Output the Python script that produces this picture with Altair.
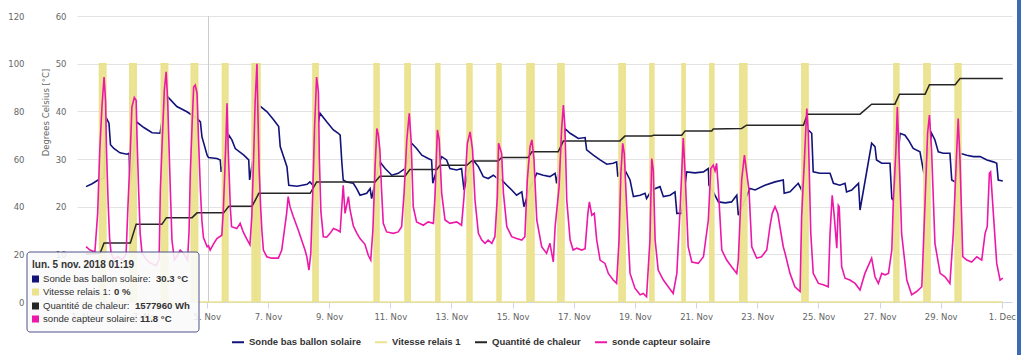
import altair as alt
import pandas as pd

BASE = pd.Timestamp("2018-11-01 00:00:00")

series_names = ["Sonde bas ballon solaire", "Vitesse relais 1", "Quantité de chaleur", "sonde capteur solaire"]
series_colors = ["#12137a", "#ebe28e", "#262626", "#ec18a8"]

# (days since 1 Nov 2018 00:00, °C)
ballon = [(0.05,24.2),(0.25,24.8),(0.47,25.7),(0.64,26.0),(0.70,38.8),(0.80,37.5),(0.85,33.0),(0.96,32.2),
 (1.16,31.3),(1.39,31.0),(1.46,31.2),(1.49,24.5),(1.59,30.0),(1.70,37.8),(1.94,36.6),(2.21,35.5),(2.47,35.4),
 (2.67,43.4),(2.80,42.5),(3.02,41.0),(3.35,39.9),(3.68,38.5),(3.79,37.8),(3.84,34.7),(4.01,30.8),(4.055,30.3),
 (4.33,30.1),(4.44,29.8),(4.47,27.3),(4.59,30.0),(4.72,35.0),(4.82,34.0),(4.93,32.2),(5.21,30.8),(5.37,29.8),
 (5.40,25.6),(5.51,30.0),(5.70,41.3),(5.97,39.9),(6.19,38.2),(6.35,36.8),(6.40,32.6),(6.62,28.4),(6.68,24.5),
 (6.95,24.3),(7.28,24.7),(7.37,25.2),(7.47,24.5),(7.57,35.0),(7.70,39.6),(7.92,37.8),(8.14,36.1),(8.30,35.4),
 (8.36,35.0),(8.41,29.8),(8.46,25.6),(8.57,25.2),(8.79,24.9),(8.90,23.8),(9.01,22.4),(9.23,22.8),(9.34,23.8),
 (9.39,21.7),(9.50,25.0),(9.66,29.4),(9.83,28.0),(10.05,26.6),(10.26,27.0),(10.48,28.0),(10.58,30.0),(10.70,33.3),
 (10.86,32.2),(11.03,30.8),(11.24,30.1),(11.35,29.8),(11.39,24.9),(11.53,28.0),(11.68,30.5),(11.84,29.8),
 (11.95,28.0),(12.17,27.7),(12.33,28.0),(12.41,23.5),(12.54,27.0),(12.71,29.8),(12.88,28.4),(13.04,26.3),
 (13.20,25.9),(13.37,26.6),(13.49,26.0),(13.64,25.6),(13.81,24.5),(13.97,23.5),(14.13,22.4),(14.30,23.1),
 (14.37,20.0),(14.57,24.0),(14.79,27.0),(15.00,26.6),(15.22,26.3),(15.39,27.0),(15.44,24.9),(15.55,30.0),
 (15.71,36.4),(15.88,35.4),(16.15,34.3),(16.37,34.5),(16.42,31.9),(16.64,30.8),(16.86,29.8),(17.08,28.9),
 (17.29,29.1),(17.40,29.4),(17.44,26.3),(17.54,28.0),(17.67,27.7),(17.84,25.6),(17.95,22.1),(18.17,22.4),
 (18.33,22.8),(18.38,21.7),(18.55,23.5),(18.82,24.2),(18.93,22.1),(19.15,22.4),(19.31,23.1),(19.37,18.6),
 (19.53,18.6),(19.69,27.3),(19.96,27.1),(20.24,27.3),(20.40,28.0),(20.42,24.5),(20.56,23.1),(20.73,21.0),
 (20.95,20.8),(21.16,21.0),(21.33,22.4),(21.38,18.2),(21.57,21.0),(21.76,23.8),(21.93,23.5),(22.25,24.5),
 (22.58,25.2),(22.85,25.6),(22.88,22.8),(23.07,23.1),(23.34,24.9),(23.45,23.5),(23.59,30.0),(23.67,36.1),
 (23.78,35.4),(23.83,27.3),(24.05,27.0),(24.38,27.0),(24.49,24.9),(24.70,24.5),(24.87,24.9),(24.92,23.1),
 (25.09,23.5),(25.31,24.9),(25.36,19.3),(25.74,33.3),(25.85,32.6),(25.90,29.8),(26.07,29.1),(26.34,29.1),
 (26.40,21.7),(26.45,21.4),(26.57,28.0),(26.67,35.4),(26.83,35.0),(26.94,34.0),(27.10,32.2),(27.32,31.5),
 (27.45,27.0),(27.58,31.0),(27.70,35.4),(27.81,34.0),(27.92,31.5),(28.08,31.2),(28.30,31.2),(28.36,25.6),
 (28.47,25.2),(28.63,31.2),(28.85,30.8),(29.07,30.5),(29.29,30.5),(29.51,29.8),(29.72,29.4),(29.83,29.1),
 (29.88,25.6),(30.03,25.4)]

capteur = [(0.05,11.6),(0.18,10.9),(0.34,10.5),(0.43,18.6),(0.50,31.9),(0.57,40.9),(0.64,47.2),(0.69,42.0),
 (0.72,31.9),(0.77,21.4),(0.82,13.5),(0.87,10.2),(0.96,9.0),(1.10,9.5),(1.23,8.8),(1.36,10.0),(1.42,20.0),
 (1.50,31.9),(1.55,40.9),(1.63,42.9),(1.69,42.3),(1.72,34.0),(1.77,23.5),(1.82,14.4),(1.88,10.3),(2.01,9.0),
 (2.14,8.2),(2.34,7.6),(2.44,9.0),(2.48,23.5),(2.53,31.9),(2.61,44.4),(2.67,48.3),(2.72,42.3),(2.79,27.0),
 (2.86,13.0),(2.94,8.8),(3.06,10.0),(3.13,10.9),(3.24,10.2),(3.37,8.8),(3.42,15.0),(3.46,27.0),(3.52,37.5),
 (3.57,45.1),(3.62,45.5),(3.68,43.8),(3.73,34.0),(3.79,23.5),(3.84,17.0),(3.89,13.5),(4.01,11.6),(4.055,11.8),
 (4.11,10.9),(4.22,12.2),(4.33,13.3),(4.49,14.0),(4.54,19.3),(4.59,27.7),(4.63,35.0),(4.66,41.7),(4.70,32.0),
 (4.74,25.0),(4.77,19.6),(4.81,15.8),(4.98,15.4),(5.09,16.5),(5.19,14.7),(5.30,13.3),(5.41,12.0),(5.47,17.9),
 (5.53,30.0),(5.58,42.0),(5.64,50.0),(5.67,40.0),(5.71,28.0),(5.76,20.0),(5.80,15.1),(5.85,10.9),(5.96,9.5),
 (6.12,9.2),(6.34,9.2),(6.45,10.9),(6.61,18.6),(6.66,22.1),(6.72,20.0),(6.83,17.9),(6.99,15.1),(7.10,13.0),
 (7.21,10.9),(7.27,9.5),(7.34,6.7),(7.40,10.2),(7.46,22.0),(7.52,36.0),(7.59,47.2),(7.65,44.0),(7.68,30.0),
 (7.73,19.0),(7.81,13.7),(7.92,13.6),(8.03,14.4),(8.14,15.4),(8.26,15.1),(8.36,14.7),(8.46,24.5),(8.52,18.6),
 (8.63,22.1),(8.68,19.5),(8.79,16.0),(8.90,14.5),(9.01,13.3),(9.17,12.1),(9.28,9.8),(9.36,8.8),(9.43,15.0),
 (9.50,28.0),(9.56,36.4),(9.61,35.0),(9.66,31.9),(9.71,24.0),(9.77,16.5),(9.88,14.7),(10.10,14.4),(10.26,14.7),
 (10.37,15.8),(10.45,22.8),(10.54,34.0),(10.62,39.6),(10.68,34.0),(10.75,20.0),(10.86,16.8),(11.08,16.1),
 (11.24,16.8),(11.41,16.5),(11.46,22.1),(11.54,36.1),(11.60,34.0),(11.68,22.8),(11.79,17.2),(11.95,16.5),
 (12.17,16.8),(12.33,16.1),(12.41,22.1),(12.52,33.3),(12.61,35.7),(12.69,31.9),(12.77,21.4),(12.88,14.4),
 (12.99,13.0),(13.10,12.3),(13.20,13.0),(13.32,12.3),(13.42,13.7),(13.50,22.1),(13.54,33.3),(13.64,31.2),
 (13.70,22.8),(13.81,15.8),(13.97,13.7),(14.13,13.3),(14.30,13.0),(14.40,13.7),(14.48,25.6),(14.57,32.6),
 (14.63,34.0),(14.70,29.8),(14.79,17.2),(14.95,11.6),(15.11,10.2),(15.22,12.3),(15.33,8.4),(15.39,15.8),
 (15.52,24.2),(15.60,36.1),(15.66,41.3),(15.71,36.8),(15.77,21.4),(15.88,13.0),(15.98,10.9),(16.10,11.3),
 (16.26,10.9),(16.37,11.2),(16.46,18.6),(16.51,21.0),(16.59,18.2),(16.67,18.6),(16.75,13.0),(16.86,8.8),
 (17.02,8.1),(17.13,6.0),(17.29,4.6),(17.40,3.9),(17.48,13.0),(17.54,27.0),(17.60,33.3),(17.65,31.2),
 (17.73,20.0),(17.84,6.0),(18.00,2.9),(18.17,1.5),(18.27,1.8),(18.38,1.1),(18.49,13.0),(18.55,30.1),
 (18.60,27.7),(18.66,13.0),(18.76,6.7),(18.93,4.6),(19.09,3.2),(19.25,1.8),(19.37,6.0),(19.48,20.0),
 (19.58,34.4),(19.64,27.0),(19.74,11.6),(19.86,8.4),(20.07,8.1),(20.24,9.5),(20.40,17.2),(20.48,28.0),
 (20.56,28.7),(20.62,27.5),(20.67,29.1),(20.73,23.5),(20.84,10.9),(21.00,8.8),(21.16,7.4),(21.33,6.0),
 (21.38,8.8),(21.49,25.6),(21.58,30.8),(21.65,27.3),(21.73,23.5),(21.82,11.6),(21.98,9.2),(22.14,9.5),
 (22.31,10.9),(22.42,16.1),(22.49,18.6),(22.58,20.0),(22.67,18.6),(22.74,15.8),(22.85,11.6),(22.91,10.2),
 (23.07,6.0),(23.23,3.2),(23.40,2.2),(23.45,17.9),(23.53,28.4),(23.62,40.6),(23.67,35.4),(23.75,14.4),
 (23.83,6.0),(24.00,3.9),(24.16,3.6),(24.32,3.2),(24.38,14.4),(24.45,22.4),(24.51,18.6),(24.60,11.3),
 (24.65,20.3),(24.68,20.0),(24.76,7.4),(24.87,5.0),(25.03,4.6),(25.20,3.9),(25.36,2.5),(25.52,6.0),
 (25.74,9.2),(25.85,5.3),(25.96,3.9),(26.07,6.0),(26.18,5.7),(26.29,6.0),(26.40,10.9),(26.45,21.4),
 (26.53,31.2),(26.58,40.9),(26.65,28.4),(26.72,14.4),(26.89,4.6),(27.05,1.5),(27.21,2.2),(27.38,3.2),
 (27.49,21.4),(27.57,35.4),(27.63,39.2),(27.70,31.9),(27.81,12.3),(27.98,6.0),(28.14,5.3),(28.30,3.9),
 (28.41,14.4),(28.50,28.4),(28.57,38.5),(28.63,29.8),(28.72,9.5),(28.85,8.8),(29.01,8.4),(29.18,9.5),
 (29.34,8.8),(29.45,14.4),(29.52,15.8),(29.59,27.0),(29.63,27.3),(29.72,18.6),(29.83,8.1),(29.94,4.6),
 (30.03,5.0)]

# heat quantity, read as its position on the °C scale
chaleur = [(0.05,10.0),(0.51,10.2),(0.64,12.4),(1.50,12.4),(1.69,16.3),(2.53,16.3),(2.68,17.7),(3.52,17.7),
 (3.68,18.7),(4.55,18.7),(4.72,20.1),(5.48,20.1),(5.70,22.8),(7.38,22.8),(7.59,25.2),(9.50,25.2),(9.66,26.4),
 (10.48,26.4),(10.64,27.8),(11.52,27.8),(11.63,28.7),(12.50,28.7),(12.66,29.6),(13.53,29.6),(13.64,30.3),
 (14.51,30.3),(14.63,31.5),(15.49,31.5),(15.66,33.8),(17.51,33.8),(17.67,34.8),(18.55,34.8),(18.60,35.0),
 (19.53,35.0),(19.64,35.9),(20.51,35.9),(20.56,36.3),(21.49,36.4),(21.65,37.1),(23.51,37.1),(23.64,39.4),
 (25.36,39.4),(25.74,41.5),(26.50,41.5),(26.65,43.6),(27.49,43.6),(27.63,45.6),(28.47,45.6),(28.63,46.9),
 (30.03,46.9)]

# relay 1 on-periods (start day, end day) at 100 %
relais = [(0.49,0.70),(1.48,1.69),(2.51,2.72),(3.49,3.70),(4.51,4.69),(5.48,5.59),(5.62,5.74),(7.47,7.64),
 (9.47,9.63),(10.48,10.65),(11.49,11.62),(12.51,12.67),(13.49,13.62),(14.47,14.70),(15.48,15.68),(17.48,17.68),
 (18.49,18.62),(19.54,19.64),(20.45,20.58),(21.43,21.66),(23.46,23.66),(26.47,26.63),(27.45,27.65),(28.47,28.66)]
RELAIS_ON = 100
RELAIS_SPAN = (0.05, 30.03)

tick_days = list(range(0, 31, 2))
x_domain_days = (-0.245, 30.33)

tooltip_time = "2018-11-05T01:19:00"
tooltip_title = "lun. 5 nov. 2018 01:19"
tooltip_labels = ["Sonde bas ballon solaire: ", "Vitesse relais 1: ", "Quantité de chaleur: ", "sonde capteur solaire: "]
tooltip_values = ["30.3 °C", "0 %", "1577960 Wh", "11.8 °C"]


def iso(d):
    return (BASE + pd.Timedelta(days=d)).strftime("%Y-%m-%dT%H:%M:%S")


def dt(d):
    t = BASE + pd.Timedelta(days=d)
    return alt.DateTime(year=t.year, month=t.month, date=t.day, hours=t.hour, minutes=t.minute)


def frame(pairs, name):
    return pd.DataFrame({"t": [iso(d) for d, _ in pairs], "v": [v for _, v in pairs], "series": name})


df_ballon = frame(ballon, series_names[0])
df_capteur = frame(capteur, series_names[3])
df_chaleur = frame(chaleur, series_names[2])
relay_pairs = [(RELAIS_SPAN[0], 0)]
for s, e in relais:
    relay_pairs += [(s, RELAIS_ON), (e, 0)]
relay_pairs.append((RELAIS_SPAN[1], 0))
df_relais = frame(relay_pairs, series_names[1])

LABEL_FONT = "DejaVu Sans"
GRAY = "#666666"

x_enc = alt.X(
    "t:T",
    scale=alt.Scale(domain=[dt(x_domain_days[0]), dt(x_domain_days[1])]),
    axis=alt.Axis(values=[dt(d) for d in tick_days], format="%-d. %b", title=None, grid=False,
                  domainColor="#ccd6eb", tickColor="#ccd6eb", tickSize=6, labelPadding=4,
                  labelFont=LABEL_FONT, labelFontSize=8.5, labelColor=GRAY, zindex=0),
)

color_enc = alt.Color(
    "series:N",
    scale=alt.Scale(domain=series_names, range=series_colors),
    legend=alt.Legend(orient="none", legendX=154, legendY=319, direction="horizontal", title=None,
                      symbolType="stroke", symbolStrokeWidth=2, symbolSize=144,
                      labelFont="Liberation Sans", labelFontSize=9.5, labelFontWeight="bold",
                      labelColor="#333333", columnPadding=10, labelOffset=4),
)

y_temp = alt.Y("v:Q", scale=alt.Scale(domain=[0, 60], nice=False, zero=True),
               axis=alt.Axis(values=list(range(0, 61, 10)), orient="left", title="Degrees Celsius [°C]",
                             grid=True, gridColor="#e3e3e3", domain=False, ticks=False, labelPadding=11,
                             labelFont=LABEL_FONT, labelFontSize=8.5, labelColor=GRAY,
                             titleFont=LABEL_FONT, titleFontSize=8.5, titleFontWeight="normal",
                             titleColor=GRAY, titleX=-32, titleY=96, titleAngle=270,
                             titleAlign="center", titleBaseline="middle", zindex=0))
y_temp_noaxis = alt.Y("v:Q", scale=alt.Scale(domain=[0, 60], nice=False, zero=True), axis=None)
y_relay = alt.Y("v:Q", scale=alt.Scale(domain=[0, 120], nice=False, zero=True),
                axis=alt.Axis(values=list(range(0, 121, 20)), orient="left", offset=42, title=None,
                              grid=False, domain=False, ticks=False, labelPadding=11,
                              labelFont=LABEL_FONT, labelFontSize=8.5, labelColor=GRAY, zindex=0))

crosshair = alt.Chart(pd.DataFrame({"t": [tooltip_time]})).mark_rule(color="#cccccc", strokeWidth=1).encode(x=x_enc)
navy = alt.Chart(df_ballon).mark_line(strokeWidth=1.6).encode(x=x_enc, y=y_temp_noaxis, color=color_enc)
layer_navy = alt.layer(crosshair, navy)

relay_area = alt.Chart(df_relais).mark_area(interpolate="step-after", color=series_colors[1], opacity=0.95).encode(x=x_enc, y=y_relay)
relay_line = alt.Chart(df_relais).mark_line(interpolate="step-after", strokeWidth=1.5).encode(x=x_enc, y=y_relay, color=color_enc)
layer_relay = alt.layer(relay_area, relay_line)

heat = alt.Chart(df_chaleur).mark_line(strokeWidth=1.5).encode(x=x_enc, y=y_temp, color=color_enc)
pink = alt.Chart(df_capteur).mark_line(strokeWidth=1.6).encode(x=x_enc, y=y_temp, color=color_enc)
layer_temp = alt.layer(heat, pink)

main = alt.layer(layer_navy, layer_relay, layer_temp).resolve_scale(y="independent")

# ---- tooltip annotation (pixel positions relative to the plot origin) ----
one = pd.DataFrame({"a": [0]})
TIP_FONT = "Liberation Sans"
ann = []
ann.append(alt.Chart(one).mark_rect(fill="#f9f9f9", fillOpacity=0.88, stroke="#50558a", strokeWidth=1,
                                    cornerRadius=3).encode(
    x=alt.value(-50), x2=alt.value(122), y=alt.value(236), y2=alt.value(316)))
ann.append(alt.Chart(one).mark_text(align="left", baseline="middle", font=TIP_FONT, fontSize=10,
                                    fontWeight="bold", color="#333333").encode(
    x=alt.value(-45), y=alt.value(249), text=alt.value(tooltip_title)))
row_y = [263, 276, 290, 303]
value_x = [79, 37, 58, 63]
for i in range(4):
    ann.append(alt.Chart(one).mark_rect(color=series_colors[i]).encode(
        x=alt.value(-45), x2=alt.value(-38), y=alt.value(row_y[i] - 3.5), y2=alt.value(row_y[i] + 3.5)))
    ann.append(alt.Chart(one).mark_text(align="left", baseline="middle", font=TIP_FONT, fontSize=9.6,
                                        color="#333333").encode(
        x=alt.value(-34), y=alt.value(row_y[i]), text=alt.value(tooltip_labels[i])))
    ann.append(alt.Chart(one).mark_text(align="left", baseline="middle", font=TIP_FONT, fontSize=9.6,
                                        fontWeight="bold", color="#333333").encode(
        x=alt.value(value_x[i]), y=alt.value(row_y[i]), text=alt.value(tooltip_values[i])))

# window frame at the right edge of the screenshot
ann.append(alt.Chart(one).mark_rule(color="#3b6cb3", strokeWidth=4).encode(
    x=alt.value(942), y=alt.value(-16), y2=alt.value(339)))

chart = alt.layer(main, *ann).properties(
    width=935, height=286,
    padding={"left": 77, "top": 16, "right": 12, "bottom": 53},
    autosize=alt.AutoSizeParams(type="none"),
    background="white",
).configure_view(strokeWidth=0)

chart.save("out.html", embed_options={"renderer": "svg", "actions": False})
